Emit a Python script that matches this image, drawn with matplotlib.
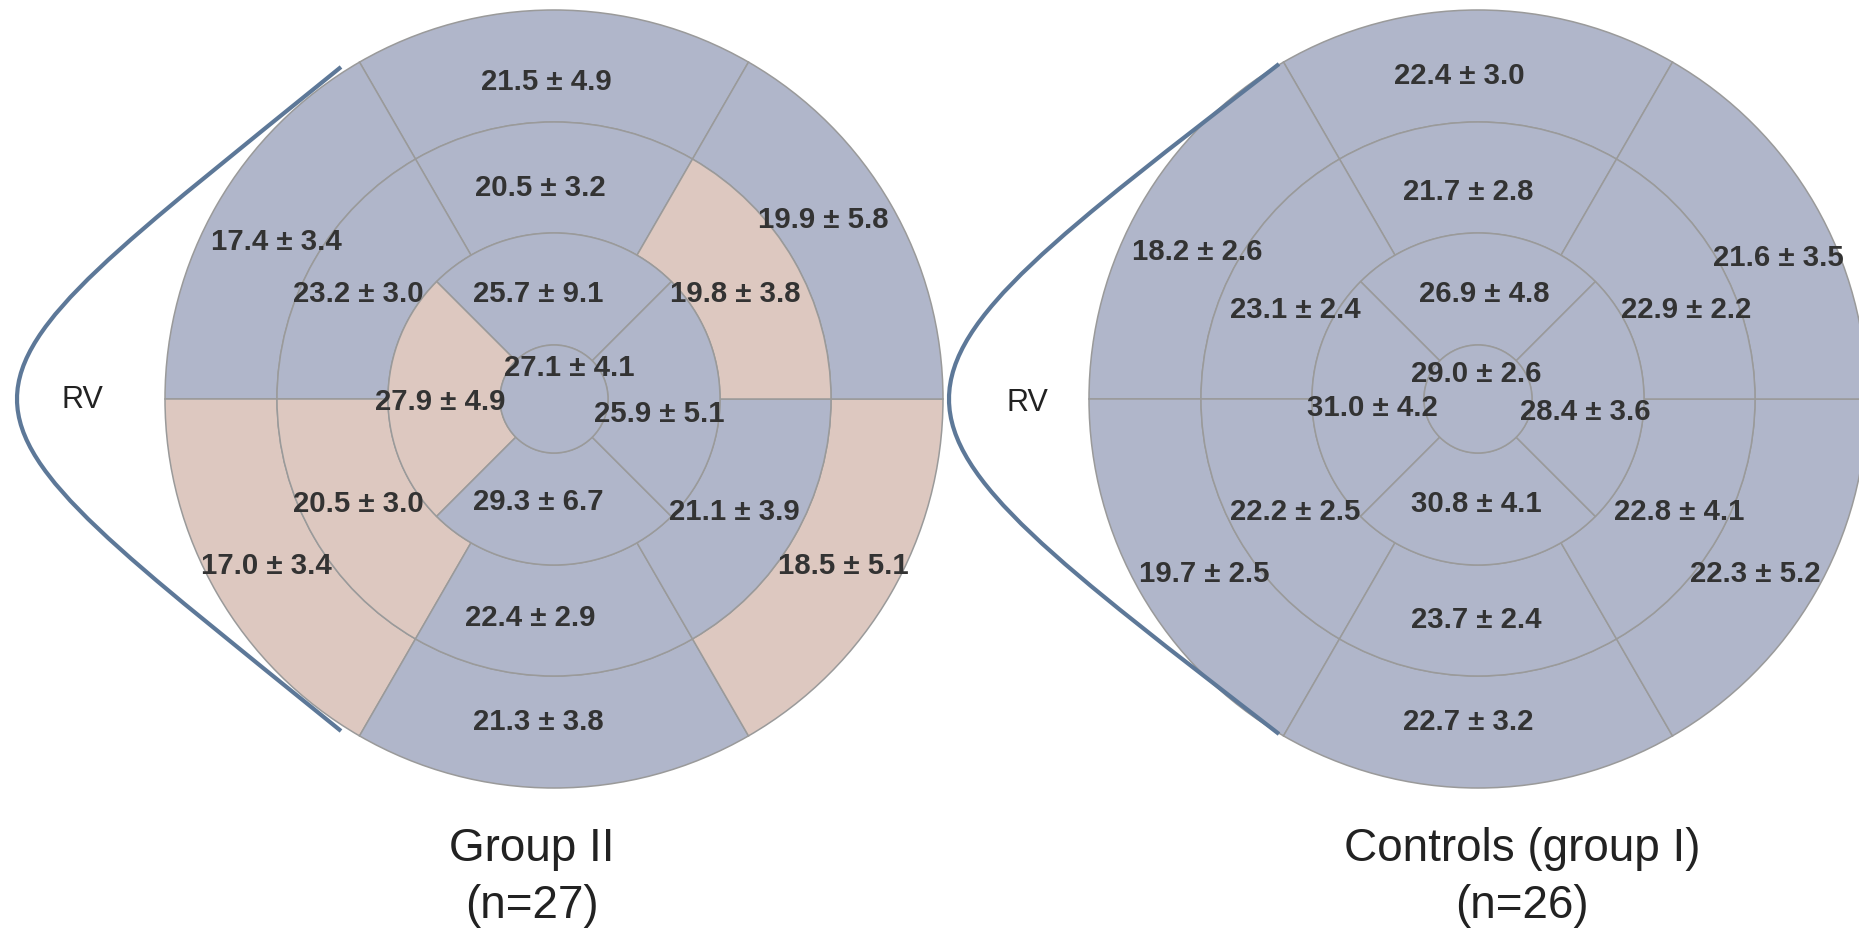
"""
Bull's-eye (17 segmentos AHA) de strain: Group II vs Controls (group I).
"""
import matplotlib
matplotlib.use("Agg")
import matplotlib.pyplot as plt
from matplotlib.patches import Wedge, PathPatch
from matplotlib.path import Path

W, H = 1859, 929

# ── Datos ─────────────────────────────────────────────────────────────────────
# orden basal/mid: anterior, anteroseptal, inferoseptal, inferior, inferolateral, anterolateral
# orden apical: anterior, septal, inferior, lateral
g2_basal_mean = [21.5, 17.4, 17.0, 21.3, 18.5, 19.9]
g2_basal_sd   = [4.9, 3.4, 3.4, 3.8, 5.1, 5.8]
g2_mid_mean   = [20.5, 23.2, 20.5, 22.4, 21.1, 19.8]
g2_mid_sd     = [3.2, 3.0, 3.0, 2.9, 3.9, 3.8]
g2_apical_mean = [25.7, 27.9, 29.3, 25.9]
g2_apical_sd   = [9.1, 4.9, 6.7, 5.1]
g2_apex = (27.1, 4.1)
# segmentos marcados (diferencia significativa vs controles)
g2_basal_flag  = [0, 0, 1, 0, 1, 0]
g2_mid_flag    = [0, 0, 1, 0, 0, 1]
g2_apical_flag = [0, 1, 0, 0]

c_basal_mean = [22.4, 18.2, 19.7, 22.7, 22.3, 21.6]
c_basal_sd   = [3.0, 2.6, 2.5, 3.2, 5.2, 3.5]
c_mid_mean   = [21.7, 23.1, 22.2, 23.7, 22.8, 22.9]
c_mid_sd     = [2.8, 2.4, 2.5, 2.4, 4.1, 2.2]
c_apical_mean = [26.9, 31.0, 30.8, 28.4]
c_apical_sd   = [4.8, 4.2, 4.1, 3.6]
c_apex = (29.0, 2.6)
c_basal_flag  = [0] * 6
c_mid_flag    = [0] * 6
c_apical_flag = [0] * 4

titulos = [("Group II", "(n=27)"), ("Controls (group I)", "(n=26)")]

# ── Layout (pixeles de pantalla, dy hacia abajo) ─────────────────────────────
R_APEX, R_API, R_MID, R_BAS = 54, 166, 277, 389
AZUL, MELOCOTON = "#B0B6CA", "#DDC8C0"
LINEA = "#9A9A9A"
TEXTO = "#333333"

CENTROS = [(554, 400), (1478, 400)]
TITULO_X = [532, 1522]

# posicion de cada etiqueta relativa al centro
OFF_G2 = {
    "basal": [(-8, -321), (-278, -160), (-288, 164), (-16, 320), (289, 164), (269, -183)],
    "mid": [(-14, -214), (-196, -108), (-196, 102), (-24, 215), (180, 110), (181, -109)],
    "apical": [(-16, -109), (-114, 0), (-16, 100), (105, 12)],
    "apex": (15, -34),
    "rv": (82 - 554, -3),
    "curva": [(-213, -332), (-645, 19), (-645, -19), (-213, 332)],
}
OFF_C = {
    "basal": [(-19, -327), (-281, -150), (-274, 172), (-10, 320), (277, 172), (300, -145)],
    "mid": [(-10, -210), (-183, -92), (-183, 109), (-2, 217), (201, 109), (208, -92)],
    "apical": [(6, -109), (-106, 5), (-2, 102), (107, 9)],
    "apex": (-2, -28),
    "rv": (1027 - 1478, 0),
    "curva": [(-199, -335), (-639, 5), (-639, -5), (-199, 335)],
}


def etiqueta(ax, cx, cy, off, m, s, size=21.2, weight="bold", color=TEXTO):
    # off = centro de la altura de mayusculas; se pasa a baseline
    x = cx + off[0]
    y = H - (cy + off[1] + 10.5)
    ax.text(x, y, f"{m:.1f} \u00b1 {s:.1f}", ha="center", va="baseline",
            fontsize=size, fontweight=weight, color=color,
            family=["Liberation Sans", "DejaVu Sans"], zorder=5)


def bullseye(ax, centro, datos, flags, offs):
    cx, cy = centro
    yc = H - cy
    anillos = [("basal", R_MID, R_BAS, 60, 60), ("mid", R_API, R_MID, 60, 60),
               ("apical", R_APEX, R_API, 45, 90)]
    for nombre, r_in, r_out, t0, paso in anillos:
        medias, sds = datos[nombre]
        for i, (m, s) in enumerate(zip(medias, sds)):
            color = MELOCOTON if flags[nombre][i] else AZUL
            th1 = t0 + paso * i
            ax.add_patch(Wedge((cx, yc), r_out, th1, th1 + paso, width=r_out - r_in,
                               facecolor=color, edgecolor=LINEA, lw=1.1, zorder=2))
            etiqueta(ax, cx, cy, offs[nombre][i], m, s)
    ax.add_patch(Wedge((cx, yc), R_APEX, 0, 360, facecolor=AZUL,
                       edgecolor=LINEA, lw=1.1, zorder=2))
    etiqueta(ax, cx, cy, offs["apex"], *datos["apex"])

    # ventriculo derecho
    verts = [(cx + dx, yc - dy) for dx, dy in offs["curva"]]
    codes = [Path.MOVETO, Path.CURVE4, Path.CURVE4, Path.CURVE4]
    ax.add_patch(PathPatch(Path(verts, codes), facecolor="none",
                           edgecolor="#5D7898", lw=3, capstyle="butt", zorder=4))
    ax.text(cx + offs["rv"][0], H - (cy + offs["rv"][1] + 11), "RV",
            ha="center", va="baseline", fontsize=22, color="#222222",
            family=["Liberation Sans", "DejaVu Sans"], zorder=5)


def main():
    fig = plt.figure(figsize=(W / 100, H / 100), dpi=100)
    ax = fig.add_axes([0, 0, 1, 1])
    ax.set_xlim(0, W)
    ax.set_ylim(0, H)
    ax.axis("off")

    datos_g2 = {"basal": (g2_basal_mean, g2_basal_sd), "mid": (g2_mid_mean, g2_mid_sd),
                "apical": (g2_apical_mean, g2_apical_sd), "apex": g2_apex}
    flags_g2 = {"basal": g2_basal_flag, "mid": g2_mid_flag, "apical": g2_apical_flag}
    datos_c = {"basal": (c_basal_mean, c_basal_sd), "mid": (c_mid_mean, c_mid_sd),
               "apical": (c_apical_mean, c_apical_sd), "apex": c_apex}
    flags_c = {"basal": c_basal_flag, "mid": c_mid_flag, "apical": c_apical_flag}

    bullseye(ax, CENTROS[0], datos_g2, flags_g2, OFF_G2)
    bullseye(ax, CENTROS[1], datos_c, flags_c, OFF_C)

    for x, (l1, l2) in zip(TITULO_X, titulos):
        ax.text(x, H - 861, l1, ha="center", va="baseline", fontsize=33,
                color="#222222", family=["Liberation Sans", "DejaVu Sans"])
        ax.text(x, H - 918, l2, ha="center", va="baseline", fontsize=33,
                color="#222222", family=["Liberation Sans", "DejaVu Sans"])

    fig.savefig("out.png", dpi=100)
    plt.close(fig)


if __name__ == "__main__":
    main()
